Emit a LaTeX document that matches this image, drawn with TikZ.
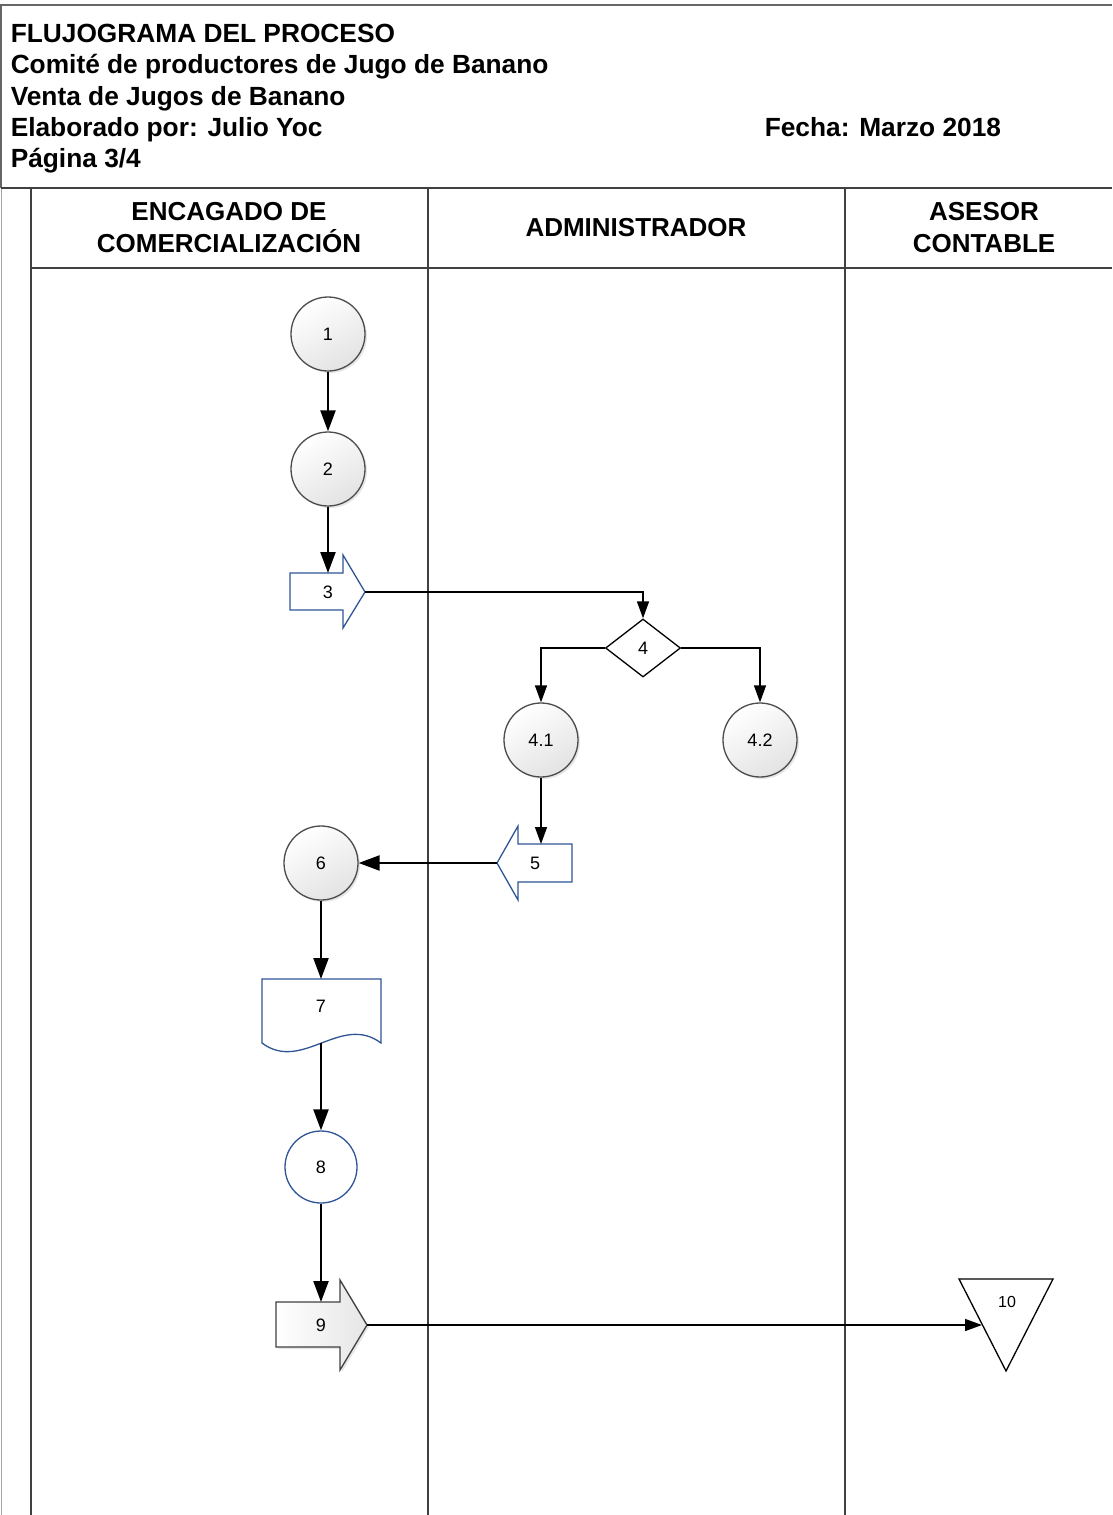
\documentclass[tikz,border=0pt]{standalone}
\usepackage{fontspec}
\setmainfont{Liberation Sans}
\usetikzlibrary{arrows.meta, shapes.geometric, shadows}
\definecolor{flowblue}{HTML}{2F5597}
\definecolor{laneline}{HTML}{404040}

\begin{document}
\begin{tikzpicture}[x=1pt, y=-1pt, line width=1.5pt,
    lane/.style={draw=laneline, line width=2pt},
    ttl/.style={anchor=base west, inner sep=0, font=\fontsize{26.3}{31}\selectfont\bfseries},
    hdr/.style={align=center, inner sep=0, font=\fontsize{26}{32}\selectfont\bfseries},
    lbl/.style={inner sep=0, font=\fontsize{18}{20}\selectfont},
    stepnode/.style={circle, draw=black!70, line width=1.3pt, minimum size=74pt, inner sep=0,
        top color=white, bottom color=black!11, shading angle=30,
        drop shadow={opacity=0.2, shadow xshift=2pt, shadow yshift=-2pt}, lbl},
    flow/.style={line width=2.3pt, -{Triangle[length=21pt, width=15pt]}},
    thinflow/.style={line width=1.5pt, -{Triangle[length=17pt, width=12pt]}}]
    \useasboundingbox (0,0) rectangle (1112,1515);

    % frame and lanes
    \draw[draw=black!60, line width=2pt] (0,5) -- (1112,5);
    \draw[draw=black!60, line width=1.5pt] (1,5) -- (1,188);
    \draw[draw=black!35, line width=1pt] (1,188) -- (1,1515);
    \draw[lane] (1,188) -- (1112,188);
    \draw[lane] (31,268) -- (1112,268);
    \draw[lane] (31,188) -- (31,1515);
    \draw[lane] (428,188) -- (428,1515);
    \draw[lane] (845,188) -- (845,1515);

    % title block
    \node[ttl] (ttlA) at (10,42) {FLUJOGRAMA DEL PROCESO};
    \node[ttl] (ttlB) at (10,73) {Comité de productores de Jugo de Banano};
    \node[ttl] (ttlC) at (10,105) {Venta de Jugos de Banano};
    \node[ttl] (ttlD) at (10,136) {Elaborado por: Julio Yoc};
    \node[ttl] (ttlE) at (764,136) {Fecha: Marzo 2018};
    \node[ttl] (ttlF) at (10,167) {Página 3/4};

    \node[hdr] (laneA) at (229,228) {ENCAGADO DE\\COMERCIALIZACIÓN};
    \node[hdr] (laneB) at (636,228) {ADMINISTRADOR};
    \node[hdr] (laneC) at (984,228) {ASESOR\\CONTABLE};

    % steps
    \node[stepnode] (s1) at (328,334) {1};
    \node[stepnode] (s2) at (328,469) {2};

    \draw[draw=flowblue, fill=white, line width=1.3pt] (290,573) -- (343,573) -- (343,555) -- (365,592)
        -- (343,628) -- (343,610) -- (290,610) -- cycle;
    \node[lbl] (s3) at (328,592) {3};
    \coordinate (s3top) at (328,573);
    \coordinate (s3tip) at (365,592);

    \node[diamond, draw, line width=1.3pt, minimum width=75pt, minimum height=58pt, inner sep=0, lbl] (s4) at (643,648) {4};
    \node[stepnode] (s41) at (541,740) {4.1};
    \node[stepnode] (s42) at (760,740) {4.2};

    \draw[draw=flowblue, fill=white, line width=1.3pt] (572,844) -- (518,844) -- (518,826) -- (497,863)
        -- (518,900) -- (518,882) -- (572,882) -- cycle;
    \node[lbl] (s5) at (535,863) {5};
    \coordinate (s5top) at (541,844);
    \coordinate (s5tip) at (497,863);

    \node[stepnode] (s6) at (321,863) {6};

    \draw[draw=flowblue, fill=white, line width=1.3pt] (262,1043) -- (262,979) -- (381,979) -- (381,1043)
        .. controls (341,1013) and (302,1073) .. (262,1043) -- cycle;
    \node[lbl] (s7) at (321,1006) {7};
    \coordinate (s7top) at (321,979);
    \coordinate (s7bot) at (321,1043);

    \node[circle, draw=flowblue, fill=white, line width=1.3pt, minimum size=72pt, inner sep=0, lbl] (s8) at (321,1167) {8};

    \draw[draw=black!75, line width=1.3pt, left color=white, right color=black!10,
        drop shadow={opacity=0.2, shadow xshift=2pt, shadow yshift=-2pt}]
        (276,1302) -- (340,1302) -- (340,1280) -- (367,1325) -- (340,1370) -- (340,1347) -- (276,1347) -- cycle;
    \node[lbl] (s9) at (321,1325) {9};
    \coordinate (s9top) at (321,1302);
    \coordinate (s9tip) at (367,1325);

    \draw[line width=1.3pt, fill=white] (959,1279) -- (1053,1279) -- (1006,1371) -- cycle;
    \node[lbl, font=\fontsize{16}{17}\selectfont] (s10) at (1007,1302) {10};
    \coordinate (s10in) at (982,1325);

    % connectors
    \draw[flow] (s1) -- (s2);
    \draw[flow] (s2) -- (s3top);
    \draw[thinflow] (s3tip) -| (s4.north);
    \draw[thinflow] (s4.west) -| (s41.north);
    \draw[thinflow] (s4.east) -| (s42.north);
    \draw[thinflow] (s41) -- (s5top);
    \draw[flow] (s5tip) -- (s6);
    \draw[flow] (s6) -- (s7top);
    \draw[flow] (s7bot) -- (s8);
    \draw[flow] (s8) -- (s9top);
    \draw[thinflow] (s9tip) -- (s10in);
\end{tikzpicture}
\end{document}
